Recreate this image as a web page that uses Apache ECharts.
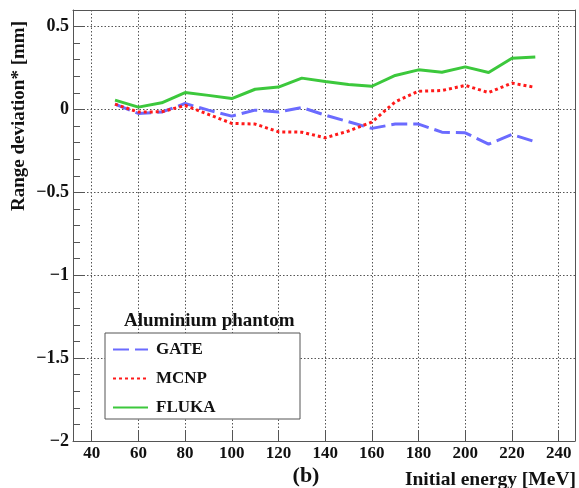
<!DOCTYPE html>
<html>
<head>
<meta charset="utf-8">
<script src="https://cdn.jsdelivr.net/npm/echarts@6/dist/echarts.min.js"></script>
<style>
  html, body { margin: 0; padding: 0; background: #fff; }
  #chart { width: 579px; height: 488px; }
</style>
</head>
<body>
<div id="chart"></div>
<script>
// energies [MeV]
var energies = [50, 60, 70, 80, 90, 100, 110, 120, 130, 140, 150, 160, 170, 180, 190, 200, 210, 220, 230];
// range deviation [mm]
var gate  = [0.032, -0.024, -0.016, 0.036, -0.004, -0.040, -0.004, -0.016, 0.012, -0.034, -0.074, -0.114, -0.088, -0.088, -0.137, -0.141, -0.209, -0.151, -0.195];
var mcnp  = [0.032, -0.016, -0.014, 0.024, -0.030, -0.084, -0.088, -0.135, -0.137, -0.171, -0.130, -0.076, 0.046, 0.110, 0.114, 0.145, 0.102, 0.159, 0.133];
var fluka = [0.056, 0.014, 0.040, 0.102, 0.085, 0.066, 0.122, 0.135, 0.189, 0.169, 0.150, 0.140, 0.205, 0.239, 0.225, 0.257, 0.223, 0.309, 0.317];
var seriesNames = ['GATE', 'MCNP', 'FLUKA'];

function pairs(ys) {
  return energies.map(function (e, i) { return [e, ys[i]]; });
}

var font = '"Liberation Serif", "DejaVu Serif", serif';
var frameColor = '#555';
var gridLine = { show: true, showMinLine: false, showMaxLine: false, lineStyle: { color: '#555', type: [1.5, 2], width: 1 } };

var chart = echarts.init(document.getElementById('chart'));
chart.setOption({
  animation: false,
  backgroundColor: '#fff',
  title: {
    text: 'Aluminium phantom',
    left: 119, top: 307,
    textStyle: { fontFamily: font, fontWeight: 'bold', fontSize: 19, color: '#111' }
  },
  grid: { left: 73, top: 10, right: 4, bottom: 47, containLabel: false },
  legend: {
    data: seriesNames,
    orient: 'vertical',
    left: 112, top: 341,
    padding: 0,
    itemWidth: 35, itemHeight: 16, itemGap: 12,
    z: 20,
    itemStyle: { opacity: 0 },
    textStyle: { fontFamily: font, fontWeight: 'bold', fontSize: 17, color: '#111', padding: [0, 0, 0, 3] }
  },
  graphic: [
    {
      type: 'rect', z: 10,
      shape: { x: 105, y: 333, width: 195, height: 86 },
      style: { fill: '#fff', stroke: frameColor, lineWidth: 1 }
    },
    {
      type: 'text', z: 10,
      x: 19, y: 116, rotation: Math.PI / 2,
      style: { text: 'Range deviation* [mm]', fontFamily: font, fontWeight: 'bold', fontSize: 19, fill: '#111', align: 'center', verticalAlign: 'middle' }
    },
    {
      type: 'text', z: 10,
      x: 306, y: 476,
      style: { text: '(b)', fontFamily: font, fontWeight: 'bold', fontSize: 22, fill: '#111', align: 'center', verticalAlign: 'middle' }
    },
    {
      type: 'text', z: 10,
      x: 576, y: 480,
      style: { text: 'Initial energy [MeV]', fontFamily: font, fontWeight: 'bold', fontSize: 19.5, fill: '#111', align: 'right', verticalAlign: 'middle' }
    }
  ],
  xAxis: [
    {
      type: 'value', min: 32, max: 247, splitNumber: 11,
      axisLine: { show: true, onZero: false, lineStyle: { color: frameColor } },
      axisTick: { show: true, inside: true, length: 10, lineStyle: { color: frameColor } },
      axisLabel: { showMinLabel: false, showMaxLabel: false, margin: 4, fontFamily: font, fontWeight: 'bold', fontSize: 17, color: '#111' },
      splitLine: gridLine
    },
    {
      type: 'value', min: 32, max: 247, position: 'top',
      axisLine: { show: true, onZero: false, lineStyle: { color: frameColor } },
      axisTick: { show: false }, axisLabel: { show: false }, splitLine: { show: false }
    }
  ],
  yAxis: [
    {
      type: 'value', min: -2, max: 0.6, interval: 0.5,
      axisLine: { show: true, onZero: false, lineStyle: { color: frameColor } },
      axisTick: { show: true, inside: true, length: 12, lineStyle: { color: frameColor } },
      minorTick: { show: true, splitNumber: 5, length: 7, lineStyle: { color: frameColor } },
      axisLabel: {
        showMaxLabel: false, margin: 4, fontFamily: font, fontWeight: 'bold', fontSize: 18, color: '#111',
        formatter: function (v) { return String(v).replace('-', '\u2212'); }
      },
      splitLine: gridLine
    },
    {
      type: 'value', min: -2, max: 0.6, position: 'right',
      axisLine: { show: true, onZero: false, lineStyle: { color: frameColor } },
      axisTick: { show: false }, axisLabel: { show: false }, splitLine: { show: false }
    }
  ],
  series: [
    {
      name: 'GATE', type: 'line', data: pairs(gate), symbol: 'none', z: 3,
      color: '#6b6bff',
      lineStyle: { color: '#6b6bff', width: 3, type: [16, 6] }
    },
    {
      name: 'MCNP', type: 'line', data: pairs(mcnp), symbol: 'none', z: 4,
      color: '#ff1a1a',
      lineStyle: { color: '#ff1a1a', width: 3, type: [3, 3] }
    },
    {
      name: 'FLUKA', type: 'line', data: pairs(fluka), symbol: 'none', z: 3,
      color: '#3cc83c',
      lineStyle: { color: '#3cc83c', width: 3 }
    }
  ]
});
</script>
</body>
</html>
